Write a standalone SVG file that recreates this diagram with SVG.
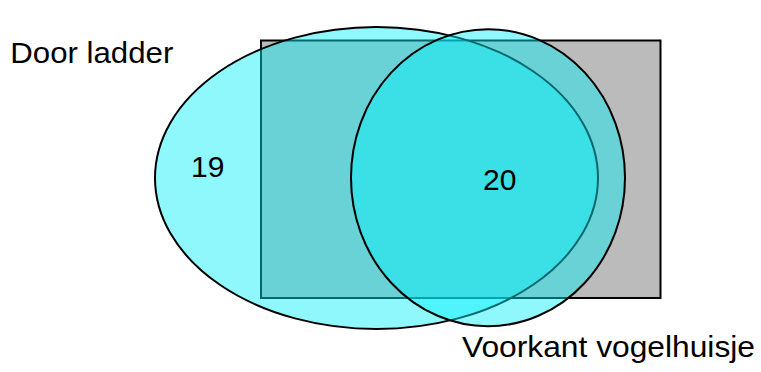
<svg xmlns="http://www.w3.org/2000/svg" width="761" height="372" viewBox="0 0 761 372">
<style>
  .lbl { font-family: "Liberation Sans", Arial, sans-serif; font-size: 30px; fill: #000; }
  .set { fill: #00f0fb; fill-opacity: 0.44; stroke: #000; stroke-width: 2; }
</style>
<rect width="761" height="372" fill="#fff"/>
<g id="rect-set">
  <rect x="261" y="40.5" width="399.5" height="257.5" fill="#bbbbbb" stroke="#000" stroke-width="2"/>
</g>
<g id="door-ladder">
  <ellipse class="set" cx="376.5" cy="178" rx="221.5" ry="151"/>
</g>
<g id="voorkant-vogelhuisje">
  <ellipse class="set" cx="488" cy="177.7" rx="137" ry="148.5"/>
</g>
<g id="labels">
  <text class="lbl" x="10.3" y="63.3" textLength="163" lengthAdjust="spacingAndGlyphs">Door ladder</text>
  <text class="lbl" x="207.8" y="176.7" text-anchor="middle">19</text>
  <text class="lbl" x="499.7" y="190" text-anchor="middle">20</text>
  <text class="lbl" x="462" y="357.3" textLength="293" lengthAdjust="spacingAndGlyphs">Voorkant vogelhuisje</text>
</g>
</svg>
